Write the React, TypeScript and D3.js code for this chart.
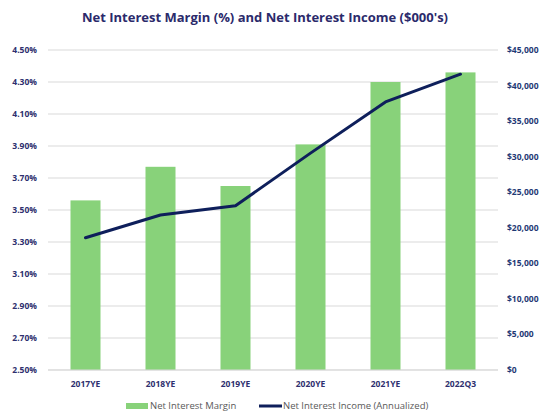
import React from "react";
import * as d3 from "d3";

const periods = ["2017YE", "2018YE", "2019YE", "2020YE", "2021YE", "2022Q3"];
const netInterestMargin = [3.56, 3.77, 3.65, 3.91, 4.3, 4.36];
const netInterestIncome = [18600, 21800, 23100, 30500, 37700, 41600];
const marginTicks = [2.5, 2.7, 2.9, 3.1, 3.3, 3.5, 3.7, 3.9, 4.1, 4.3, 4.5];
const incomeTicks = [0, 5000, 10000, 15000, 20000, 25000, 30000, 35000, 40000, 45000];

export default function App() {
  const width = 545;
  const height = 415;
  const margin = { top: 50, right: 47, bottom: 45, left: 48 };
  const plotRight = width - margin.right;
  const plotBottom = height - margin.bottom;

  const xScale = d3
    .scaleBand()
    .domain(periods)
    .range([margin.left, plotRight])
    .paddingInner(0.6)
    .paddingOuter(0.3);

  const yLeft = d3.scaleLinear().domain([2.5, 4.5]).range([plotBottom, margin.top]);
  const yRight = d3.scaleLinear().domain([0, 45000]).range([plotBottom, margin.top]);

  const line = d3
    .line<number>()
    .x((_, i) => (xScale(periods[i]) ?? 0) + xScale.bandwidth() / 2)
    .y((d) => yRight(d));

  const font = "'Open Sans', 'Liberation Sans', sans-serif";
  const labelColor = "#2E2F6E";
  const rightColor = "#1F3A75";

  return (
    <svg
      width={width}
      height={height}
      style={{ position: "absolute", left: 0, top: 0, background: "#fff" }}
      fontFamily={font}
    >
      <text
        x={265}
        y={22}
        textAnchor="middle"
        fontSize={13}
        fontWeight="bold"
        fill="#2B2A6B"
      >
        Net Interest Margin (%) and Net Interest Income ($000's)
      </text>

      {/* gridlines */}
      {marginTicks.map((t) => (
        <line
          key={t}
          x1={margin.left}
          x2={plotRight}
          y1={yLeft(t)}
          y2={yLeft(t)}
          stroke="#D9D9D9"
          strokeWidth={1}
        />
      ))}

      {/* left axis labels */}
      {marginTicks.map((t) => (
        <text
          key={t}
          x={37}
          y={yLeft(t)}
          dy="0.35em"
          textAnchor="end"
          fontSize={8.5}
          fontWeight="bold"
          fill={labelColor}
        >
          {t.toFixed(2)}%
        </text>
      ))}

      {/* right axis labels */}
      {incomeTicks.map((t) => (
        <text
          key={t}
          x={507}
          y={yRight(t)}
          dy="0.35em"
          textAnchor="start"
          fontSize={8.5}
          fontWeight="bold"
          fill={rightColor}
        >
          {d3.format("$,")(t)}
        </text>
      ))}

      {/* bars */}
      {netInterestMargin.map((v, i) => (
        <rect
          key={periods[i]}
          x={xScale(periods[i])}
          y={yLeft(v)}
          width={xScale.bandwidth()}
          height={plotBottom - yLeft(v)}
          fill="#88D27A"
        />
      ))}

      <line
        x1={margin.left}
        x2={plotRight}
        y1={plotBottom}
        y2={plotBottom}
        stroke="#D9D9D9"
      />

      {/* income line */}
      <path
        d={line(netInterestIncome) ?? ""}
        fill="none"
        stroke="#0E1F5B"
        strokeWidth={3}
        strokeLinejoin="round"
        strokeLinecap="round"
      />

      {/* x labels */}
      {periods.map((p) => (
        <text
          key={p}
          x={(xScale(p) ?? 0) + xScale.bandwidth() / 2}
          y={387}
          textAnchor="middle"
          fontSize={8.5}
          fontWeight="bold"
          fill={labelColor}
        >
          {p}
        </text>
      ))}

      {/* legend */}
      <rect x={126} y={403} width={22} height={6} fill="#88D27A" />
      <text x={150} y={409} fontSize={9.5} fill="#595959">
        Net Interest Margin
      </text>
      <line x1={259} x2={282} y1={406} y2={406} stroke="#0E1F5B" strokeWidth={3} />
      <text x={283} y={409} fontSize={9.5} fill="#595959">
        Net Interest Income (Annualized)
      </text>
    </svg>
  );
}
